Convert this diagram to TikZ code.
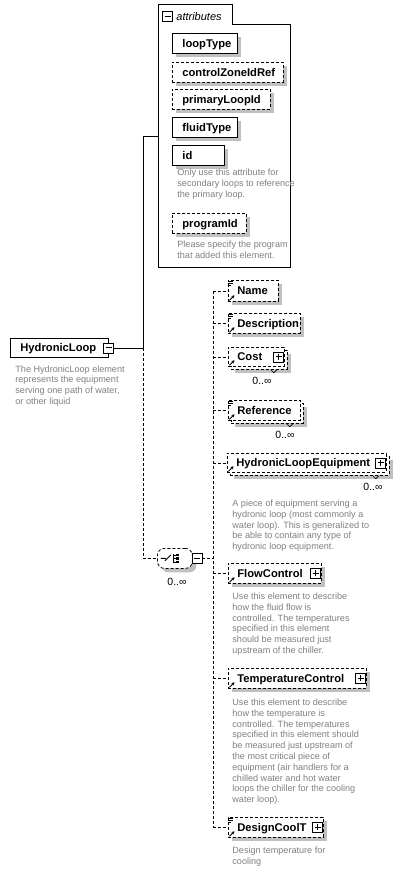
\documentclass[tikz,border=0pt]{standalone}
\usepackage{fontspec}
\setmainfont{Liberation Sans}
\usetikzlibrary{shadows,arrows.meta,calc}
\definecolor{anncol}{RGB}{128,128,128}
\definecolor{shadowcol}{RGB}{192,192,192}
% small "documented element" mark in the top-left corner of a box
\newcommand\docmark[1]{\draw[solid,line width=0.7pt]
  ([shift={(-0.5pt,-1.5pt)}]#1.north west) -- ++(5pt,0pt)
  ([shift={(-0.5pt,-3.5pt)}]#1.north west) -- ++(5pt,0pt)
  ([shift={(-0.5pt,-5.5pt)}]#1.north west) -- ++(3.5pt,0pt);}
% reference arrow in the bottom-left corner of a box
\newcommand\refmark[1]{\draw[solid,line width=0.9pt,-{Stealth[length=3pt,width=3.5pt]}]
  ([shift={(1.5pt,1.5pt)}]#1.south west) -- ++(5pt,5pt);}
\begin{document}
\begin{tikzpicture}[x=1pt,y=-1pt,line width=0.8pt,
  box/.style={draw,fill=white,anchor=north west,inner sep=0,minimum height=20},
  opt/.style={box,dash pattern=on 3pt off 2pt},
  shad/.style={drop shadow={shadow xshift=4pt,shadow yshift=-4pt,fill=shadowcol,opacity=1}},
  lbl/.style={font=\bfseries\fontsize{11.2}{13}\selectfont,inner sep=0,anchor=base west},
  anno/.style={font=\fontsize{9.1}{10.8}\selectfont,text=anncol,align=left,inner sep=0,anchor=north west},
  occ/.style={font=\fontsize{10.5}{12}\selectfont,inner sep=0},
  conn/.style={dash pattern=on 3pt off 2pt},
  plusbox/.style={draw,solid,fill=white,minimum size=10,inner sep=0,
    path picture={\draw[line width=0.9pt]
      ([xshift=2pt]path picture bounding box.west) -- ([xshift=-2pt]path picture bounding box.east)
      ([yshift=-2pt]path picture bounding box.north) -- ([yshift=2pt]path picture bounding box.south);}},
  minusbox/.style={draw,solid,fill=white,minimum size=10,inner sep=0,
    path picture={\draw[line width=0.9pt]
      ([xshift=2pt]path picture bounding box.west) -- ([xshift=-2pt]path picture bounding box.east);}}
]
\fill[white] (0,0) rectangle (400,871);
\useasboundingbox (0,0) rectangle (400,871);

% ---------- attribute group ----------
\node[anchor=north west,minimum width=132,minimum height=243,inner sep=0] (attrbox) at (158,24) {};
\node[anchor=south west,minimum width=74,minimum height=19,inner sep=0] (attrtab) at (attrbox.north west) {};
\draw (attrbox.south west) |- (attrtab.north east) |- (attrbox.north east) -- (attrbox.south east) -- cycle;
\node[minusbox] (attrm) at (167.5,16.5) {};
\node[font=\itshape\fontsize{11}{13}\selectfont,inner sep=0,anchor=base west] (attrt) at (176,20) {attributes};

\node[box,shad,minimum width=65] (aLoop) at (172,33) {};
\node[lbl] (aLoopT) at ([shift={(10pt,-4pt)}]aLoop.west) {loopType};
\node[opt,shad,minimum width=111] (aZone) at (172,62) {};
\node[lbl] (aZoneT) at ([shift={(10pt,-4pt)}]aZone.west) {controlZoneIdRef};
\node[opt,shad,minimum width=98] (aPrim) at (172,89) {};
\node[lbl] (aPrimT) at ([shift={(10pt,-4pt)}]aPrim.west) {primaryLoopId};
\node[box,shad,minimum width=65] (aFluid) at (172,117) {};
\node[lbl] (aFluidT) at ([shift={(10pt,-4pt)}]aFluid.west) {fluidType};
\node[box,shad,minimum width=52] (aId) at (172,145) {};
\node[lbl] (aIdT) at ([shift={(10pt,-4pt)}]aId.west) {id};
\node[anno] (aIdD) at (177,169) {Only use this attribute for\\secondary loops to reference\\the primary loop.};
\node[opt,shad,minimum width=74] (aProg) at (172,213) {};
\node[lbl] (aProgT) at ([shift={(10pt,-4pt)}]aProg.west) {programId};
\node[anno] (aProgD) at (177,241) {Please specify the program\\that added this element.};

% ---------- root element ----------
\coordinate (spine) at (143,0);
\coordinate (attrin) at (158,136);
\coordinate (bus) at (213,0);

\node[box,minimum width=98,minimum height=19] (hl) at (10,338) {};
\node[lbl] (hlT) at ([shift={(10pt,-4pt)}]hl.west) {HydronicLoop};
\node[minusbox] (hlm) at (hl.east) {};
\node[anno] (hlD) at (15,365) {The HydronicLoop element\\represents the equipment\\serving one path of water,\\or other liquid};

% ---------- sequence compositor ----------
\node[draw,fill=white,conn,rounded corners=7pt,shad,minimum width=35,minimum height=20,inner sep=0,anchor=north west] (seq) at (157,548) {};
\draw[solid,line width=0.9pt] ([xshift=-14pt]seq.center) -- ([xshift=-9pt]seq.center)
  ([shift={(-10pt,-2.5pt)}]seq.center) -- ([shift={(-4pt,3.5pt)}]seq.center);
\draw[solid,line width=0.9pt] ([shift={(-1pt,-4.5pt)}]seq.center) -- ([shift={(-1pt,4.5pt)}]seq.center);
\foreach \dy in {3.5,0,-3.5}{
  \draw[solid,line width=0.8pt] ([shift={(-1pt,\dy pt)}]seq.center) -- ([shift={(1.2pt,\dy pt)}]seq.center);
  \fill ([shift={(1.2pt,\dy pt-1.1pt)}]seq.center) rectangle ([shift={(4.4pt,\dy pt+1.1pt)}]seq.center);
}
\node[minusbox] (seqm) at (197,558) {};
\node[occ] (seqo) at (177,582) {0..∞};

% ---------- child elements: boxes ----------
\node[opt,shad,minimum width=50,minimum height=21] (eName) at (228,280) {};
\node[opt,shad,minimum width=72] (eDesc) at (228,313) {};
\node[opt,shad,minimum width=56,minimum height=19] (eCostB) at (231,350) {};
\node[opt,minimum width=56,minimum height=19] (eCost) at (228,347) {};
\node[opt,shad,minimum width=72] (eRefB) at (231,403) {};
\node[opt,minimum width=72] (eRef) at (228,400) {};
\node[opt,shad,minimum width=159,minimum height=19] (eHLEB) at (230,456) {};
\node[opt,minimum width=159,minimum height=19] (eHLE) at (227,453) {};
\node[opt,shad,minimum width=93] (eFlow) at (228,563) {};
\node[opt,shad,minimum width=138] (eTemp) at (228,668) {};
\node[opt,shad,minimum width=95] (eDCT) at (228,817) {};

% ---------- connectors ----------
\draw (hlm.east) -- (hlm.east -| spine) |- (attrin);
\draw[conn] (hlm.east -| spine) |- (seq.west);
\draw[conn] (seqm.east) -- (seqm.east -| bus);
\draw[conn] (eName.west -| bus) -- (eDCT.west -| bus);
\foreach \e in {eName,eDesc,eCost,eRef,eHLE,eFlow,eTemp,eDCT}{
  \draw[conn] (\e.west -| bus) -- (\e.west);
}

% ---------- child elements: labels and marks ----------
\node[lbl] (eNameT) at ([shift={(9pt,-4pt)}]eName.west) {Name};
\node[lbl] (eDescT) at ([shift={(9pt,-4pt)}]eDesc.west) {Description};
\node[lbl] (eCostT) at ([shift={(9pt,-4pt)}]eCost.west) {Cost};
\node[lbl] (eRefT) at ([shift={(9pt,-4pt)}]eRef.west) {Reference};
\node[lbl] (eHLET) at ([shift={(9pt,-4pt)}]eHLE.west) {HydronicLoopEquipment};
\node[lbl] (eFlowT) at ([shift={(9pt,-4pt)}]eFlow.west) {FlowControl};
\node[lbl] (eTempT) at ([shift={(9pt,-4pt)}]eTemp.west) {TemperatureControl};
\node[lbl] (eDCTT) at ([shift={(9pt,-4pt)}]eDCT.west) {DesignCoolT};

\foreach \e in {eName,eDesc,eRef,eDCT}{\docmark{\e}}
\foreach \e in {eName,eDesc,eCost,eRef,eHLE,eFlow,eTemp,eDCT}{\refmark{\e}}

\node[plusbox] (eCostP) at ([xshift=-6pt]eCost.east) {};
\node[plusbox] (eHLEP) at ([xshift=-6pt]eHLE.east) {};
\node[plusbox] (eFlowP) at ([xshift=-6pt]eFlow.east) {};
\node[plusbox] (eTempP) at ([xshift=-6pt]eTemp.east) {};
\node[plusbox] (eDCTP) at ([xshift=-6pt]eDCT.east) {};

% occurrence folds and bounds
\foreach \e in {eCostB,eRefB,eHLEB}{
  \draw[solid,line width=0.6pt] ([xshift=-17pt]\e.south east) -- ++(3pt,-3pt) -- ++(3pt,3pt);
}
\node[occ] (eCostO) at (262,381) {0..∞};
\node[occ] (eRefO) at (285,435) {0..∞};
\node[occ] (eHLEO) at (373,487) {0..∞};

% ---------- annotations ----------
\node[anno] (eHLED) at (232,499.5) {A piece of equipment serving a\\hydronic loop (most commonly a\\water loop). This is generalized to\\be able to contain any type of\\hydronic loop equipment.};
\node[anno] (eFlowD) at (232,592.5) {Use this element to describe\\how the fluid flow is\\controlled. The temperatures\\specified in this element\\should be measured just\\upstream of the chiller.};
\node[anno] (eTempD) at (232,698.5) {Use this element to describe\\how the temperature is\\controlled. The temperatures\\specified in this element should\\be measured just upstream of\\the most critical piece of\\equipment (air handlers for a\\chilled water and hot water\\loops the chiller for the cooling\\water loop).};
\node[anno] (eDCTD) at (232,846.5) {Design temperature for\\cooling};
\end{tikzpicture}
\end{document}
